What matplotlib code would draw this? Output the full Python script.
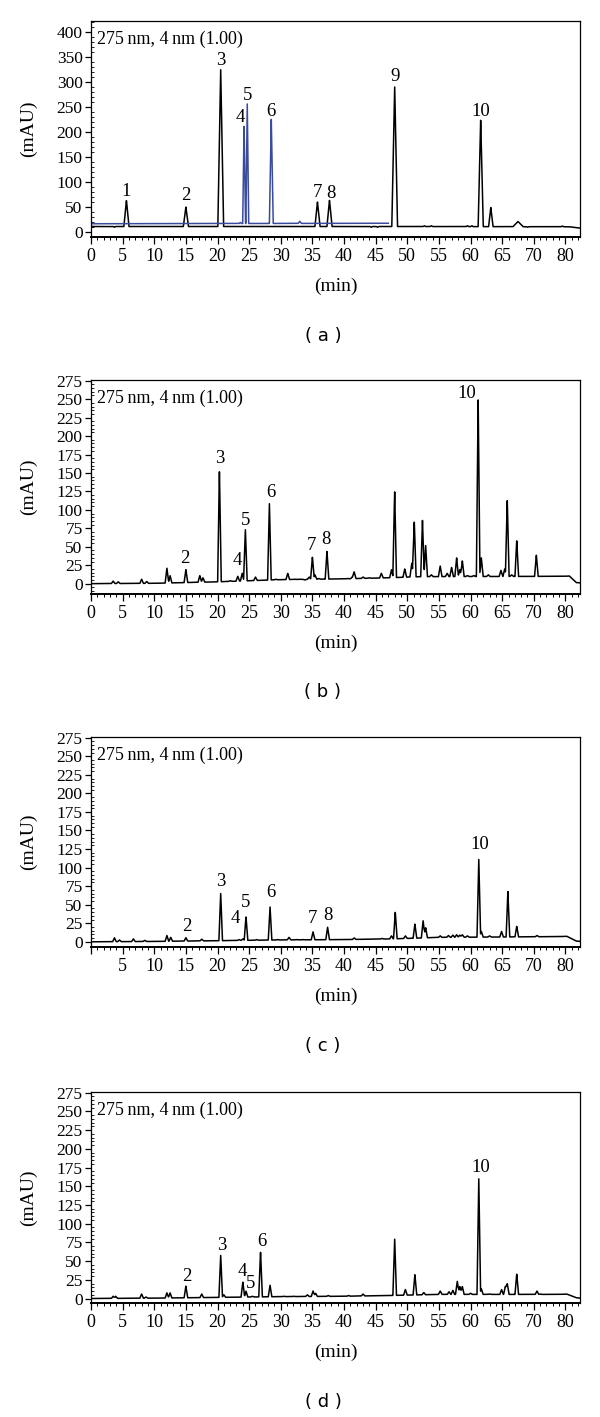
import numpy as np
import matplotlib
matplotlib.use("Agg")
import matplotlib.pyplot as plt
from matplotlib.ticker import MultipleLocator, FixedLocator, FixedFormatter

# ---------------- data ----------------
x_tick_pos = [0, 5, 10, 15, 20, 25, 30, 35, 40, 45, 50, 55, 60, 65, 70, 75]
x_tick_lab = ["0", "5", "10", "15", "20", "25", "30", "35", "40", "45",
              "50", "55", "60", "65", "70", "80"]
x_tick_lab_c = [""] + x_tick_lab[1:]

yt_a = [0, 50, 100, 150, 200, 250, 300, 350, 400]
yt_bcd = [0, 25, 50, 75, 100, 125, 150, 175, 200, 225, 250, 275]

# panel (a) black trace
a_base_t = [0, 47, 75.6, 77.5]
a_base_v = [11, 11, 10.5, 7.5]
a_pk_t = [3.7, 5.6, 15.0, 20.5, 35.8, 37.7, 44.3, 45.3, 48.0, 52.7, 53.8,
          59.5, 60.2, 61.6, 63.2, 67.5, 69.0, 74.5]
a_pk_top = [9.5, 63.5, 50, 326, 60, 63.5, 9.5, 9.5, 294, 12.5, 12.5,
            12.5, 12.5, 225, 49, 21, 9.5, 12]
a_pk_w = [0.15, 0.4, 0.4, 0.45, 0.4, 0.4, 0.2, 0.2, 0.45, 0.2, 0.2,
          0.2, 0.2, 0.4, 0.35, 0.8, 0.2, 0.2]
# panel (a) blue trace
ab_base_t = [0, 47]
ab_base_v = [16.5, 17.5]
ab_pk_t = [23.6, 24.2, 24.7, 28.5, 33.0]
ab_pk_top = [19, 214, 257, 226, 21.5]
ab_pk_w = [0.2, 0.22, 0.22, 0.3, 0.25]
a_lab = ["1", "2", "3", "4", "5", "6", "7", "8", "9", "10"]
a_lab_x = [5.6, 15.0, 20.5, 23.6, 24.8, 28.5, 35.8, 37.9, 48.0, 61.6]
a_lab_y = [82, 72, 343, 229, 273, 241, 79, 78, 311, 241]

# panel (b)
b_base_t = [0, 10, 20, 30, 40, 47, 52, 75.0, 75.6, 76.7, 77.5]
b_base_v = [0, 0.5, 2.5, 5.5, 6.5, 8, 9.5, 10, 10.5, 1.5, 1]
b_pk_t = [3.5, 4.3, 8.0, 8.8, 12.0, 12.5, 15.0, 17.2, 17.7, 20.3, 22.0, 23.2,
          23.9, 24.4, 26.0, 28.2, 29.2, 31.1, 32.2, 33.0, 33.8, 34.5, 35.0,
          35.4, 36.0, 37.3, 40.5, 41.3, 41.6, 43.0, 44.0, 45.9, 47.5, 48.0,
          49.6, 50.7, 51.1, 52.4, 52.9, 53.8, 55.2, 56.3, 57.0, 57.8, 58.3,
          58.7, 59.5, 60.5, 61.2, 61.7, 62.8, 64.8, 65.4, 65.8, 66.5, 67.3, 70.4]
b_pk_top = [3.5, 2.5, 6, 3, 21, 11, 19, 11, 8, 154, 4, 10,
            14, 74, 9, 109, 6, 14, 6, 6, 5, 9, 36,
            12, 7, 44, 7, 9, 16, 9, 8, 14, 19, 127,
            20, 28, 85, 86, 52, 12, 24, 14, 22, 35, 19,
            31, 11, 11, 252, 35, 12, 18, 20, 114, 12, 59, 39]
b_lab = ["2", "3", "4", "5", "6", "7", "8", "10"]
b_lab_x = [14.8, 20.3, 23.1, 24.4, 28.4, 34.8, 37.2, 59.4]
b_lab_y = [34, 169, 32, 86, 123, 52, 59.5, 257.6]

# panel (c)
c_base_t = [0, 10, 20, 30, 40, 48, 55, 65, 74, 75.2, 76.7, 77.5]
c_base_v = [0, 0.5, 1.5, 2.5, 3, 4, 6, 6.5, 7, 7.5, 1, 0.5]
c_pk_t = [3.7, 4.5, 6.7, 8.5, 12.0, 12.6, 15.0, 17.5, 20.5, 23.4, 24.0, 24.5,
          26.2, 28.3, 29.5, 31.3, 32.5, 33.5, 35.1, 37.4, 41.6, 43.0, 46.0,
          47.5, 48.1, 49.7, 51.2, 52.5, 52.9, 55.2, 56.5, 57.2, 57.8, 58.3,
          58.7, 59.5, 61.3, 61.7, 63.0, 64.9, 65.9, 67.3, 70.5]
c_pk_top = [5.5, 2.5, 4, 2, 8.5, 6, 5.5, 3.5, 65.5, 3, 4, 34,
            3, 47.7, 3, 6, 3, 3, 13.4, 19.6, 5.3, 3.5, 4.5,
            8, 40, 8, 24, 28.5, 19, 8, 8.5, 9, 9.5, 9,
            9.5, 8, 111, 14, 8, 14, 68, 21, 8.5]
c_lab = ["2", "3", "4", "5", "6", "7", "8", "10"]
c_lab_x = [15.1, 20.5, 22.8, 24.5, 28.5, 35.0, 37.4, 61.5]
c_lab_y = [20, 81, 32, 53.5, 67, 31, 35.6, 131]

# panel (d)
d_base_t = [0, 10, 20, 30, 40, 47, 55, 74, 75.2, 76.7, 77.5]
d_base_v = [0, 0.5, 1.5, 2.5, 3, 4, 5.5, 5.5, 6, 1, 0.5]
d_pk_t = [3.5, 3.9, 8.0, 8.7, 12.0, 12.5, 15.0, 17.5, 20.5, 21.0, 24.0, 24.5,
          25.5, 26.8, 28.3, 30.5, 32.0, 34.2, 35.1, 35.5, 37.5, 40.7, 43.0,
          48.0, 49.7, 51.2, 52.6, 55.2, 56.6, 57.2, 57.9, 58.3, 58.7, 60.0,
          61.3, 61.7, 63.0, 64.9, 65.5, 65.8, 67.3, 70.5, 71.0]
d_pk_top = [3, 3, 6, 2, 7.6, 7.6, 16.5, 6, 58, 5, 22, 10,
            3, 63, 18, 3, 3, 5, 10, 7, 4, 4, 6,
            81, 12, 32, 8, 10, 9, 11, 23, 16, 16, 7,
            160, 13, 6, 12, 16, 20, 33, 10, 6]
d_lab = ["2", "3", "4", "5", "6", "10"]
d_lab_x = [15.1, 20.6, 23.9, 25.3, 27.0, 61.6]
d_lab_y = [29, 71, 36.5, 19.6, 76.6, 174.7]

# ---------------- drawing ----------------
W, H = 600, 1417
fig = plt.figure(figsize=(W / 100, H / 100), dpi=100)
SERIF = ["Liberation Serif", "DejaVu Serif"]
SANS = ["DejaVu Sans"]

grid = np.linspace(0, 77.5, 6000)


def trace(base_t, base_v, pk_t, pk_top, pk_w):
    base = np.interp(grid, base_t, base_v)
    y = base.copy()
    for t, top, w in zip(pk_t, pk_top, pk_w):
        h = top - np.interp(t, base_t, base_v)
        y += h * np.clip(1 - np.abs(grid - t) / w, 0, None)
    return y


def make_axes(top_px, bot_px):
    left, right = 91, 580
    ax = fig.add_axes([left / W, 1 - bot_px / H, (right - left) / W,
                       (bot_px - top_px) / H])
    return ax


def style(ax, ylim, yticks, yminor, xlabels, panel, panel_y_px):
    ax.set_xlim(0, 77.3)
    ax.set_ylim(*ylim)
    ax.xaxis.set_major_locator(FixedLocator(x_tick_pos))
    ax.xaxis.set_major_formatter(FixedFormatter(xlabels))
    ax.xaxis.set_minor_locator(MultipleLocator(1))
    ax.set_yticks(yticks)
    ax.yaxis.set_minor_locator(MultipleLocator(yminor))
    ax.tick_params(axis="x", which="major", direction="out", length=5,
                   width=0.9, pad=3, labelsize=13)
    ax.tick_params(axis="x", which="minor", direction="out", length=2.5,
                   width=0.7)
    ax.tick_params(axis="y", which="major", direction="out", length=4,
                   width=0.9, pad=2, labelsize=12.5)
    ax.tick_params(axis="y", which="minor", direction="in", length=2,
                   width=0.6)
    for lab in ax.get_xticklabels() + ax.get_yticklabels():
        lab.set_family(SERIF)
    for s in ["top", "right", "left"]:
        ax.spines[s].set_linewidth(0.9)
    ax.spines["bottom"].set_linewidth(1.4)
    ax.set_xlabel("(min)", family=SERIF, fontsize=14, labelpad=9)
    ax.set_ylabel("(mAU)", family=SERIF, fontsize=14, labelpad=14)
    ax.text(0.012, 0.955, "275\u2009nm, 4\u2009nm (1.00)", transform=ax.transAxes,
            ha="left", va="top", family=SERIF, fontsize=13)
    fig.text(323 / W, 1 - panel_y_px / H, "( %s )" % panel, ha="center",
             va="center", family=SANS, fontsize=13)


def labels(ax, labs, xs, ys):
    for s, x, y in zip(labs, xs, ys):
        ax.text(x, y, s, ha="center", va="center", family=SERIF, fontsize=13.5)


lw = 1.1
# (a)
ax = make_axes(21, 237)
ya = trace(a_base_t, a_base_v, a_pk_t, a_pk_top, a_pk_w)
yb = trace(ab_base_t, ab_base_v, ab_pk_t, ab_pk_top, ab_pk_w)
mask = grid <= 47
ax.plot(grid, ya, color="black", lw=lw)
ax.plot(grid[mask], yb[mask], color="#3a4b9e", lw=lw)
style(ax, (-10, 422), yt_a, 10, x_tick_lab, "a", 336)
labels(ax, a_lab, a_lab_x, a_lab_y)

# (b)
ax = make_axes(380, 594)
yv = trace(b_base_t, b_base_v, b_pk_t, b_pk_top, [0.28] * len(b_pk_t))
ax.plot(grid, yv, color="black", lw=lw)
style(ax, (-14, 276), yt_bcd, 5, x_tick_lab, "b", 692)
labels(ax, b_lab, b_lab_x, b_lab_y)

# (c)
ax = make_axes(737, 947)
yv = trace(c_base_t, c_base_v, c_pk_t, c_pk_top, [0.28] * len(c_pk_t))
ax.plot(grid, yv, color="black", lw=lw)
style(ax, (-7, 276), yt_bcd, 5, x_tick_lab_c, "c", 1046)
labels(ax, c_lab, c_lab_x, c_lab_y)

# (d)
ax = make_axes(1092, 1303)
yv = trace(d_base_t, d_base_v, d_pk_t, d_pk_top, [0.28] * len(d_pk_t))
ax.plot(grid, yv, color="black", lw=lw)
style(ax, (-6, 276), yt_bcd, 5, x_tick_lab, "d", 1402)
labels(ax, d_lab, d_lab_x, d_lab_y)

fig.savefig("out.png", dpi=100)
